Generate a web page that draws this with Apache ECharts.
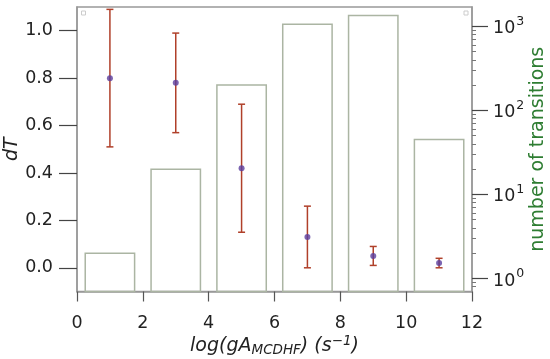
<!DOCTYPE html>
<html>
<head>
<meta charset="utf-8">
<script src="https://cdn.jsdelivr.net/npm/echarts@6/dist/echarts.min.js"></script>
<style>html,body{margin:0;padding:0;background:#fff}#c{width:550px;height:359px}</style>
</head>
<body>
<div id="c"></div>
<script>
// ---- data ----
const binCenters = [1, 3, 5, 7, 9, 11];
const dTValues   = [0.80, 0.78, 0.42, 0.13, 0.05, 0.02];
const dTLow      = [0.51, 0.57, 0.15, 0.00, 0.01, 0.00];
const dTHigh     = [1.09, 0.99, 0.69, 0.26, 0.09, 0.04];
const transitionCounts = [2, 20, 200, 1060, 1350, 45];
const xTicks = [0, 2, 4, 6, 8, 10, 12];
const leftTicks = [0.0, 0.2, 0.4, 0.6, 0.8, 1.0];
const rightTicks = [1, 10, 100, 1000];
const rightMinorTicks = [0.8, 0.9, 2, 3, 4, 5, 6, 7, 8, 9, 20, 30, 40, 50, 60, 70, 80, 90,
  200, 300, 400, 500, 600, 700, 800, 900];

const FONT = 'DejaVu Sans';
const BAR_HALF = 0.75;
const RIGHT_MIN = 0.7, RIGHT_MAX = 1700;

const chart = echarts.init(document.getElementById('c'), null, {renderer: 'canvas'});

const option = {
  animation: false,
  backgroundColor: '#fff',
  textStyle: {fontFamily: FONT},
  grid: {left: 77, right: 78, top: 7, bottom: 67.5, containLabel: false, outerBoundsMode: 'none',
    show: true, borderColor: '#999', borderWidth: 1.5, backgroundColor: 'transparent'},
  xAxis: {
    type: 'value', min: 0, max: 12, interval: 2,
    axisLine: {show: true, onZero: false, lineStyle: {color: '#999', width: 1.5}},
    axisTick: {show: true, inside: false, length: 10, customValues: xTicks, lineStyle: {color: '#555', width: 1.2}},
    axisLabel: {fontFamily: FONT, fontSize: 17.5, color: '#222', margin: 23, customValues: xTicks},
    splitLine: {show: false},
    name: 'log(gA{sub|MCDHF}) (s{sup|−1})',
    nameLocation: 'middle', nameGap: 43, nameMoveOverlap: false,
    nameTextStyle: {fontFamily: FONT, fontSize: 19, fontStyle: 'italic', color: '#222',
      rich: {
        sub: {fontFamily: FONT, fontSize: 13.5, fontStyle: 'italic', color: '#222', verticalAlign: 'bottom', padding: [7, 0, 0, 0]},
        sup: {fontFamily: FONT, fontSize: 13.5, color: '#222', verticalAlign: 'top', padding: [0, 0, 9, 0]}
      }}
  },
  yAxis: [
    {
      type: 'value', min: -0.1, max: 1.1, position: 'left',
      axisLine: {show: true, onZero: false, lineStyle: {color: '#999', width: 1.5}},
      axisTick: {show: true, inside: false, length: 18, customValues: leftTicks, lineStyle: {color: '#444', width: 1.2}},
      axisLabel: {fontFamily: FONT, fontSize: 17.5, color: '#222', margin: 24, customValues: leftTicks,
        formatter: v => v.toFixed(1)},
      splitLine: {show: false},
      name: 'dT', nameLocation: 'middle', nameGap: 55, nameRotate: 90, nameMoveOverlap: false,
      nameTextStyle: {fontFamily: FONT, fontSize: 19, fontStyle: 'italic', color: '#222'}
    },
    {
      type: 'log', min: RIGHT_MIN, max: RIGHT_MAX, position: 'right',
      axisLine: {show: true, onZero: false, lineStyle: {color: '#999', width: 1.5}},
      axisTick: {show: true, inside: false, length: 16, customValues: rightTicks, lineStyle: {color: '#444', width: 1.2}},
      axisLabel: {fontFamily: FONT, fontSize: 17.5, color: '#222', margin: 21, customValues: rightTicks,
        formatter: v => '{b|10}{s|' + Math.round(Math.log10(v)) + '}',
        rich: {
          b: {fontFamily: FONT, fontSize: 17.5, color: '#222', verticalAlign: 'bottom'},
          s: {fontFamily: FONT, fontSize: 12.5, color: '#222', verticalAlign: 'top', padding: [0, 0, 10, 1]}
        }},
      splitLine: {show: false},
      name: 'number of transitions', nameLocation: 'middle', nameGap: 57, nameRotate: 90, nameMoveOverlap: false,
      nameTextStyle: {fontFamily: FONT, fontSize: 19, color: '#2e7d32'}
    },
    {
      type: 'log', min: RIGHT_MIN, max: RIGHT_MAX, position: 'right',
      axisLine: {show: false, onZero: false},
      axisTick: {show: true, inside: false, length: 4, customValues: rightMinorTicks, lineStyle: {color: '#777', width: 1}},
      axisLabel: {show: false},
      splitLine: {show: false}
    }
  ],
  series: [
    {
      type: 'custom', name: 'transitions', xAxisIndex: 0, yAxisIndex: 1, z: 1,
      data: binCenters.map((x, i) => [x, transitionCounts[i]]),
      renderItem: (params, api) => {
        const x = api.value(0), c = api.value(1);
        const p1 = api.coord([x - BAR_HALF, c]);
        const p2 = api.coord([x + BAR_HALF, RIGHT_MIN]);
        return {type: 'rect', shape: {x: p1[0], y: p1[1], width: p2[0] - p1[0], height: p2[1] - p1[1]},
          style: {fill: 'none', stroke: '#abb5a3', lineWidth: 1.5}};
      }
    },
    {
      type: 'custom', name: 'err', xAxisIndex: 0, yAxisIndex: 0, z: 3, clip: false,
      data: binCenters.map((x, i) => [x, dTLow[i], dTHigh[i]]),
      renderItem: (params, api) => {
        const x = api.value(0);
        const lo = api.coord([x, api.value(1)]);
        const hi = api.coord([x, api.value(2)]);
        const cw = 3.5;
        const st = {stroke: '#b0402a', lineWidth: 1.5};
        return {type: 'group', children: [
          {type: 'line', shape: {x1: hi[0], y1: hi[1], x2: lo[0], y2: lo[1]}, style: st},
          {type: 'line', shape: {x1: hi[0] - cw, y1: hi[1], x2: hi[0] + cw, y2: hi[1]}, style: st},
          {type: 'line', shape: {x1: lo[0] - cw, y1: lo[1], x2: lo[0] + cw, y2: lo[1]}, style: st}
        ]};
      }
    },
    {
      type: 'scatter', name: 'dT', xAxisIndex: 0, yAxisIndex: 0, z: 4,
      symbol: 'circle', symbolSize: 6,
      itemStyle: {color: '#5a3d9e'},
      data: binCenters.map((x, i) => [x, dTValues[i]])
    }
  ],
  graphic: [
    {type: 'rect', left: 81, top: 10.5, shape: {width: 4, height: 4}, style: {fill: '#fff', stroke: '#ccc', lineWidth: 1}},
    {type: 'rect', left: 463.5, top: 10.5, shape: {width: 4, height: 4}, style: {fill: '#fff', stroke: '#ccc', lineWidth: 1}}
  ]
};
chart.setOption(option);
</script>
</body>
</html>
